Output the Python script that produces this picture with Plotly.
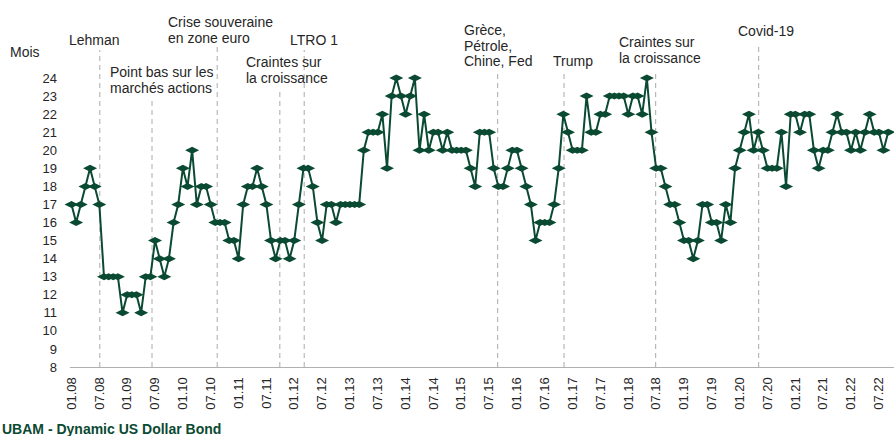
import plotly.graph_objects as go

# Monthly values (months) from 01.08 to 09.22
values = [
    17, 16, 17, 18, 19, 18, 17, 13, 13, 13, 13, 11, 12, 12, 12, 11, 13, 13, 15, 14,
    13, 14, 16, 17, 19, 18, 20, 17, 18, 18, 17, 16, 16, 16, 15, 15, 14, 17, 18, 18,
    19, 18, 17,
    15, 14, 15, 15, 14, 15, 17, 19, 19, 18, 16, 15, 17, 17, 16, 17, 17, 17, 17, 17,
    20, 21, 21, 21, 22, 19, 23, 24, 23, 22, 23, 24, 20, 22, 20, 21, 21, 20, 21, 20,
    20, 20, 20, 19, 18,
    21, 21, 21, 19, 18, 18, 19, 20, 20, 19, 18, 17, 15, 16, 16, 16, 17, 19, 22, 21,
    20, 20, 20, 23, 21, 21, 22, 22, 23, 23, 23, 23, 22, 23, 23, 22, 24, 21, 19, 19,
    18, 17, 17, 16, 15, 15, 14, 15, 17, 17, 16, 16, 15, 17, 16, 19, 20, 21, 22, 20,
    21, 20, 19, 19, 19, 21, 18, 22, 22, 21, 22, 22, 20, 19, 20, 20, 21, 22, 21, 21,
    20, 21, 20, 21, 22, 21, 21, 20, 21,
]

tick_labels = [
    "01.08", "07.08", "01.09", "07.09", "01.10", "07.10", "01.11", "07.11",
    "01.12", "07.12", "01.13", "07.13", "01.14", "07.14", "01.15", "07.15",
    "01.16", "07.16", "01.17", "07.17", "01.18", "07.18", "01.19", "07.19",
    "01.20", "07.20", "01.21", "07.21", "01.22", "07.22",
]
tick_step = 6

y_ticks = list(range(8, 25))

# Events (month index position on the axis) and their labels
event_labels = [
    ["Lehman"],
    ["Point bas sur les", "marchés actions"],
    ["Crise souveraine", "en zone euro"],
    ["Craintes sur", "la croissance"],
    ["LTRO 1"],
    ["Grèce,", "Pétrole,", "Chine, Fed"],
    ["Trump"],
    ["Craintes sur", "la croissance"],
    ["Covid-19"],
]
event_pos = [6.1, 17.35, 31.4, 44.9, 50.15, 91.85, 106.15, 125.9, 148.1]

# ---- layout geometry (pixels) ----
W, H = 894, 436
L, R, T, B = 70, 0, 78, 69
PW, PH = W - L - R, H - T - B


def px(xp):
    return (xp - L) / PW


def py(yp):
    return (H - B - yp) / PH


# label placement (left x, first-line centre y) and dashed line tops in pixels
label_px = [(67, 40), (108, 72), (166, 22), (244, 62), (288, 40),
            (462, 30), (551, 61), (617, 42), (736, 31)]
line_gap = 15.7
line_top_px = [50, 98, 45, 91, 50, 72, 72, 71, 46]

GREEN = "#0b4a32"
FONT = "Liberation Sans, Arial, sans-serif"

months = list(range(len(values)))

fig = go.Figure()
fig.add_trace(go.Scatter(
    x=months, y=values, mode="lines+markers",
    line=dict(color=GREEN, width=2),
    marker=dict(symbol="diamond-wide", size=10, color=GREEN),
    cliponaxis=False, showlegend=False, hoverinfo="skip",
))

shapes = []
for pos, top in zip(event_pos, line_top_px):
    shapes.append(dict(type="line", xref="x", yref="paper",
                       x0=pos, x1=pos, y0=0, y1=py(top),
                       line=dict(color="#aaaaaa", width=1, dash="5px,4px"),
                       layer="below"))

annotations = []
for lines, (lx, ly) in zip(event_labels, label_px):
    for i, line in enumerate(lines):
        annotations.append(dict(text=line, xref="paper", yref="paper",
                                x=px(lx), y=py(ly + i * line_gap),
                                xanchor="left", yanchor="middle",
                                align="left", showarrow=False,
                                font=dict(size=14, color="#262626", family=FONT)))
annotations.append(dict(text="Mois", xref="paper", yref="paper",
                        x=px(8), y=py(52), xanchor="left", yanchor="middle",
                        showarrow=False, font=dict(size=14, color="#262626", family=FONT)))
annotations.append(dict(text="<b>UBAM - Dynamic US Dollar Bond</b>", xref="paper", yref="paper",
                        x=px(0), y=py(429), xanchor="left", yanchor="middle",
                        showarrow=False, font=dict(size=14, color=GREEN, family=FONT)))

tick_vals = [i * tick_step for i in range(len(tick_labels))]
px_per_month = 4.64
x_range = [-1.5 / px_per_month, -1.5 / px_per_month + PW / px_per_month]

fig.update_layout(
    width=W, height=H,
    margin=dict(l=L, r=R, t=T, b=B, pad=0),
    paper_bgcolor="white", plot_bgcolor="white",
    font=dict(family=FONT, size=13, color="#262626"),
    xaxis=dict(range=x_range, tickmode="array", tickvals=tick_vals, ticktext=tick_labels,
               tickangle=-90, showgrid=False, zeroline=False, showline=True,
               linecolor="#b0b0b0", linewidth=1, ticks="", ticklabelstandoff=4,
               tickfont=dict(size=13, color="#262626")),
    yaxis=dict(range=[8, 24], tickmode="array", tickvals=y_ticks,
               showgrid=False, zeroline=False, showline=False, ticks="",
               ticklabelstandoff=12, tickfont=dict(size=13, color="#262626")),
    shapes=shapes, annotations=annotations,
)

fig.write_html("out.html", config={"displayModeBar": False},
               post_script="document.body.style.margin='0';document.body.style.overflow='hidden';")
